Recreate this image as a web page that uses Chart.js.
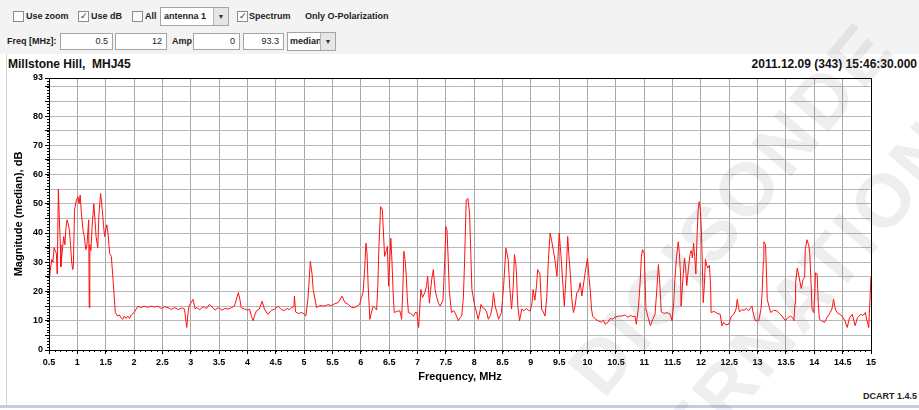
<!DOCTYPE html>
<html>
<head>
<meta charset="utf-8">
<script src="https://cdn.jsdelivr.net/npm/chart.js@4.4.1/dist/chart.umd.min.js"></script>
<style>
    body { margin:0; width:919px; height:410px; overflow:hidden; background:#fff; position:relative;
           font-family:'Liberation Sans', Arial, sans-serif; }
    .abs { position:absolute; }
    #toolbar { left:0; top:0; width:919px; height:54px; background:#f3f3f3; }
    .lbl { font-size:9px; font-weight:bold; color:#222; white-space:nowrap; line-height:12px; }
    .chk { width:9px; height:9px; border:1px solid #8c8c8c; background:#fbfbfb; font-size:9px; line-height:9px;
           text-align:center; color:#333; }
    .box { border:1px solid #a4a4a4; background:#fff; font-size:9px; color:#222; box-sizing:border-box; }
    .inp { text-align:right; padding-right:4px; line-height:15px; }
    .sel { padding-left:3px; line-height:17px; font-weight:bold; overflow:hidden; }
    .arr { position:absolute; top:0; right:0; bottom:0; background:#e6e6e6; border-left:1px solid #b4b4b4;
           font-size:7px; text-align:center; color:#333; }
    #chartWrap { left:0; top:70px; width:919px; height:320px; }
    .wm { color:rgba(90,90,90,0.10); font-weight:bold; font-size:75px; letter-spacing:4px; white-space:nowrap;
          transform-origin:center; pointer-events:none; font-family:'Liberation Sans', Arial, sans-serif; }
</style>
</head>
<body>
<div id="toolbar" class="abs">
    <div class="abs chk" style="left:13px;top:11px;"></div>
    <div class="abs lbl" style="left:26px;top:10px;">Use zoom</div>
    <div class="abs chk" style="left:78px;top:11px;">&#10003;</div>
    <div class="abs lbl" style="left:91px;top:10px;">Use dB</div>
    <div class="abs chk" style="left:132px;top:11px;"></div>
    <div class="abs lbl" style="left:145px;top:10px;">All</div>
    <div class="abs box sel" style="left:160px;top:7px;width:69px;height:19px;">antenna 1<div class="arr" style="width:14px;">&#9660;</div></div>
    <div class="abs chk" style="left:237px;top:11px;">&#10003;</div>
    <div class="abs lbl" style="left:249px;top:10px;">Spectrum</div>
    <div class="abs lbl" style="left:305px;top:10px;">Only O-Polarization</div>

    <div class="abs lbl" style="left:7px;top:35px;">Freq [MHz]:</div>
    <div class="abs box inp" style="left:60px;top:33px;width:53px;height:17px;">0.5</div>
    <div class="abs box inp" style="left:115px;top:33px;width:52px;height:17px;">12</div>
    <div class="abs lbl" style="left:172px;top:35px;">Amp</div>
    <div class="abs box inp" style="left:193px;top:33px;width:47px;height:17px;">0</div>
    <div class="abs box inp" style="left:243px;top:33px;width:41px;height:17px;">93.3</div>
    <div class="abs box sel" style="left:287px;top:32px;width:49px;height:19px;padding-left:2px;">median<div class="arr" style="width:14px;">&#9660;</div></div>
</div>
<div class="abs" style="left:6px;top:54px;width:1px;height:352px;background:#d4d4d4;"></div>
<div class="abs" style="left:8px;top:57px;font-size:12px;font-weight:bold;color:#111;white-space:pre;">Millstone Hill,  MHJ45</div>
<div class="abs" style="right:2px;top:57px;font-size:12px;font-weight:bold;color:#111;">2011.12.09 (343) 15:46:30.000</div>
<div id="chartWrap" class="abs"><canvas id="specChart"></canvas></div>
<div class="abs" style="right:2px;top:391px;font-size:9px;font-weight:bold;color:#222;">DCART 1.4.5</div>
<div class="abs" style="left:0;top:405px;width:919px;height:3px;background:#c3cedb;"></div>
<div class="abs wm" style="left:502px;top:165px;transform:rotate(-50deg);">DIGISONDE</div>
<div class="abs wm" style="left:470px;top:257px;transform:rotate(-50deg);">INTERNATIONAL</div>

<script>
// ==================== DATA ====================
const freqMHz = [
    0.50, 0.52, 0.55, 0.57, 0.59, 0.61, 0.63, 0.645, 0.665, 0.68, 0.70, 0.71, 0.74, 0.76, 0.78, 0.80, 0.82, 0.84, 0.86, 0.88,
    0.90, 0.92, 0.93, 0.95, 0.98, 1.01, 1.03, 1.05, 1.07, 1.10, 1.12, 1.15, 1.17, 1.20, 1.21, 1.22, 1.24, 1.26, 1.29, 1.31,
    1.33, 1.36, 1.38, 1.41, 1.44, 1.46, 1.48, 1.50, 1.52, 1.54, 1.57, 1.60, 1.63, 1.67, 1.71, 1.74, 1.77, 1.80, 1.83, 1.86,
    1.89, 1.92, 1.95, 2.00, 2.04, 2.07, 2.12, 2.18, 2.24, 2.30, 2.36, 2.42, 2.48, 2.54, 2.60, 2.66, 2.72, 2.78, 2.84, 2.89,
    2.93, 2.95, 2.97, 3.04, 3.08, 3.10, 3.16, 3.22, 3.28, 3.33, 3.38, 3.43, 3.49, 3.55, 3.60, 3.66, 3.72, 3.77, 3.84, 3.87,
    3.89, 3.95, 4.00, 4.04, 4.07, 4.10, 4.13, 4.16, 4.21, 4.26, 4.30, 4.36, 4.42, 4.48, 4.54, 4.60, 4.65, 4.70, 4.74, 4.78,
    4.82, 4.83, 4.85, 4.90, 4.96, 5.01, 5.03, 5.07, 5.11, 5.14, 5.16, 5.22, 5.28, 5.36, 5.42, 5.48, 5.54, 5.60, 5.67, 5.72,
    5.78, 5.84, 5.89, 5.95, 5.98, 6.01, 6.04, 6.07, 6.09, 6.11, 6.13, 6.16, 6.19, 6.22, 6.25, 6.28, 6.30, 6.32, 6.35, 6.38,
    6.40, 6.42, 6.45, 6.47, 6.49, 6.51, 6.53, 6.55, 6.57, 6.59, 6.63, 6.69, 6.72, 6.74, 6.76, 6.78, 6.80, 6.82, 6.84, 6.88,
    6.93, 6.96, 6.99, 7.02, 7.04, 7.06, 7.09, 7.13, 7.16, 7.18, 7.21, 7.23, 7.25, 7.28, 7.31, 7.34, 7.37, 7.40, 7.45, 7.48,
    7.50, 7.52, 7.54, 7.56, 7.60, 7.64, 7.68, 7.72, 7.75, 7.78, 7.81, 7.83, 7.86, 7.89, 7.92, 7.94, 7.96, 8.01, 8.04, 8.07,
    8.10, 8.12, 8.15, 8.19, 8.22, 8.25, 8.29, 8.32, 8.34, 8.37, 8.40, 8.43, 8.48, 8.52, 8.56, 8.60, 8.63, 8.66, 8.69, 8.71,
    8.74, 8.77, 8.80, 8.84, 8.88, 8.92, 8.96, 8.99, 9.02, 9.04, 9.07, 9.10, 9.12, 9.16, 9.19, 9.22, 9.25, 9.28, 9.31, 9.34,
    9.37, 9.40, 9.43, 9.46, 9.48, 9.50, 9.53, 9.56, 9.59, 9.62, 9.65, 9.67, 9.70, 9.72, 9.75, 9.78, 9.81, 9.84, 9.87, 9.90,
    9.94, 9.97, 10.00, 10.02, 10.05, 10.07, 10.09, 10.14, 10.19, 10.24, 10.28, 10.31, 10.36, 10.40, 10.43, 10.49, 10.55, 10.61, 10.66, 10.71,
    10.76, 10.80, 10.84, 10.86, 10.90, 10.93, 10.95, 10.97, 11.00, 11.03, 11.07, 11.11, 11.15, 11.19, 11.22, 11.25, 11.27, 11.30, 11.35, 11.40,
    11.46, 11.49, 11.52, 11.54, 11.57, 11.60, 11.62, 11.64, 11.65, 11.68, 11.71, 11.73, 11.75, 11.78, 11.81, 11.83, 11.85, 11.87, 11.89, 11.91,
    11.93, 11.95, 11.97, 11.99, 12.01, 12.03, 12.04, 12.06, 12.08, 12.10, 12.12, 12.15, 12.17, 12.18, 12.23, 12.28, 12.34, 12.37, 12.40, 12.44,
    12.49, 12.54, 12.58, 12.62, 12.64, 12.66, 12.68, 12.72, 12.76, 12.80, 12.84, 12.90, 12.93, 12.96, 13.00, 13.02, 13.06, 13.08, 13.10, 13.11,
    13.14, 13.15, 13.17, 13.20, 13.23, 13.28, 13.34, 13.38, 13.43, 13.49, 13.53, 13.58, 13.62, 13.64, 13.66, 13.67, 13.70, 13.73, 13.77, 13.80,
    13.83, 13.84, 13.87, 13.90, 13.92, 13.94, 13.96, 13.99, 14.01, 14.02, 14.05, 14.07, 14.09, 14.13, 14.18, 14.22, 14.28, 14.31, 14.34, 14.37,
    14.40, 14.45, 14.49, 14.54, 14.58, 14.62, 14.67, 14.72, 14.76, 14.82, 14.86, 14.90, 14.93, 14.96, 15.00
];
const magnitudeDb = [
    22, 27, 31, 30, 35, 34, 33, 26, 55, 46, 36, 28.5, 35, 38.8, 36, 42, 44.5, 43, 41, 36,
    30, 27.5, 29, 47.9, 51, 52.4, 50, 53, 47, 41, 39, 34.3, 36, 44.5, 14.5, 36, 34, 42, 50, 45,
    38.8, 35, 46, 53.5, 48, 43, 38.8, 41, 42.8, 40, 33, 32, 24, 12.8, 11.6, 12, 11, 10.5, 11.6, 10.8,
    11.6, 10.8, 12, 12.8, 14, 15, 14.5, 15, 14.6, 15, 14.7, 15, 14.2, 14.8, 14.5, 13.9, 14.5, 13.8, 14.4, 14,
    7.7, 12, 15, 17.3, 14, 14.5, 13.8, 14.8, 14.2, 15.6, 14.6, 13.7, 14.5, 13.6, 14.2, 14, 14.5, 15, 19.6, 17,
    14.5, 14, 13.6, 14, 11.5, 10, 12, 13.4, 14, 16.7, 14, 12.2, 13.5, 14, 15, 13.8, 13.5, 14.2, 13.8, 14.5,
    14.8, 18.4, 13, 12.5, 12.8, 12.2, 11.6, 18, 30.3, 26, 20.7, 14.5, 15.2, 15, 15.5, 15.2, 15.8, 16.2, 18.4, 16.2,
    15.6, 14.5, 14.5, 15.2, 15.6, 17.9, 19.6, 28, 36.5, 33, 22, 10.5, 13, 15, 14.5, 13.7, 22, 35.4, 49, 48,
    40, 32, 34, 35.4, 21.8, 30, 38.2, 30.3, 20, 12.8, 13.2, 13.4, 10.5, 20, 33.7, 31, 26, 18, 12.8, 12.5,
    11.6, 12.8, 12.8, 7.7, 14, 20.7, 18, 19.6, 22, 25.2, 16, 20, 24, 27.5, 20.7, 18, 16, 15, 17, 30,
    42.2, 41, 32, 20.7, 12.8, 13.5, 12, 10, 11, 11.6, 18, 29.8, 51.3, 51.8, 46.5, 33, 20.7, 15, 13, 10.5,
    13, 15.6, 14.5, 14, 13, 10.5, 12, 15, 19.6, 15, 13, 10.5, 12.8, 22, 34.8, 31, 20.7, 14, 22, 32.6,
    28.6, 15, 10, 14, 13.4, 14.2, 13.5, 13.4, 16, 20.7, 17, 22, 27.5, 26, 14, 13, 11.6, 18, 31, 40,
    37, 33.7, 30, 25.2, 32, 40, 32.6, 24, 15, 25, 38.8, 32.6, 25, 18, 12.8, 15, 19.6, 20, 23, 18.5,
    24, 28, 31.4, 26, 20, 14, 11.6, 10.5, 10, 9.5, 10.2, 8.8, 9.5, 10.8, 10.5, 11.2, 11.6, 11.6, 12, 11.2,
    11.8, 11.4, 11.6, 8.8, 15, 24, 32, 34.3, 33, 14, 11, 8.3, 10.5, 12.2, 20, 29.2, 24, 13, 12.5, 12.8,
    12.2, 10, 16, 24, 32, 37, 33, 26, 15, 24, 31.4, 28, 22, 28, 33, 34, 31.5, 36.5, 32, 26,
    38, 47.9, 50.7, 48, 40, 25, 16.2, 22, 31, 29, 28, 29, 22, 12.8, 13.2, 12.6, 12.2, 8.3, 9.5, 8.6,
    8.8, 11.6, 12.2, 14, 17.3, 15, 13, 13.8, 13.6, 14.2, 13.4, 15, 12, 10, 10.2, 10, 14, 19.6, 30, 37,
    36, 30, 17.3, 15, 12.8, 13.6, 13.4, 12.5, 11.6, 10, 11, 11.6, 11, 10, 16, 23, 28, 25, 21, 24,
    25, 34.3, 37.7, 36, 33, 24, 14, 12.8, 20, 26.4, 26, 16, 10.5, 10, 9.4, 11, 12.8, 14, 17.3, 14,
    12.8, 12.2, 11.6, 10, 7.7, 11, 12.2, 8.3, 11, 12.2, 11.8, 12.8, 10, 7.7, 25.2
];
const xTickValues = [0.5, 1, 1.5, 2, 2.5, 3, 3.5, 4, 4.5, 5, 5.5, 6, 6.5, 7, 7.5, 8, 8.5, 9, 9.5, 10,
                     10.5, 11, 11.5, 12, 12.5, 13, 13.5, 14, 14.5, 15];
const yTickValues = [0, 5, 10, 15, 20, 25, 30, 35, 40, 45, 50, 55, 60, 65, 70, 75, 80, 85, 90, 93];
const yTickLabels = [0, 10, 20, 30, 40, 50, 60, 70, 80, 93];

// ==================== CHART ====================
const TICK_FONT = { family: "'Liberation Sans', Arial, sans-serif", size: 9, weight: 'bold' };
const TITLE_FONT = { family: "'Liberation Sans', Arial, sans-serif", size: 11, weight: 'bold' };

// frame + small minor tick marks (0.1 MHz / 1 dB), placed through the scales
const frameAndMinorTicks = {
    id: 'frameAndMinorTicks',
    afterDraw(chart) {
        const { ctx, chartArea: a, scales: { x, y } } = chart;
        ctx.save();
        ctx.strokeStyle = '#000';
        ctx.lineWidth = 1;
        ctx.strokeRect(Math.round(a.left) + 0.5, Math.round(a.top) + 0.5,
                       Math.round(a.right - a.left), Math.round(a.bottom - a.top));
        ctx.beginPath();
        for (let i = 5; i <= 150; i++) {
            const px = Math.round(x.getPixelForValue(i / 10)) + 0.5;
            ctx.moveTo(px, a.bottom);
            ctx.lineTo(px, a.bottom + 2);
        }
        for (let j = 0; j <= 93; j++) {
            const py = Math.round(y.getPixelForValue(j)) + 0.5;
            ctx.moveTo(a.left - 2, py);
            ctx.lineTo(a.left, py);
        }
        ctx.stroke();
        ctx.restore();
    }
};

const ctx = document.getElementById('specChart').getContext('2d');
window.specChart = new Chart(ctx, {
    type: 'line',
    data: {
        datasets: [{
            data: freqMHz.map((f, i) => ({ x: f, y: magnitudeDb[i] })),
            borderColor: '#ff1010',
            borderWidth: 1,
            pointRadius: 0,
            tension: 0,
            fill: false
        }]
    },
    options: {
        responsive: true,
        maintainAspectRatio: false,
        animation: false,
        layout: { padding: { left: 0, right: 48, top: 8, bottom: 0 } },
        plugins: { legend: { display: false }, tooltip: { enabled: false } },
        scales: {
            x: {
                type: 'linear',
                min: 0.5,
                max: 15,
                afterBuildTicks: s => { s.ticks = xTickValues.map(v => ({ value: v })); },
                afterFit: s => { s.height = 40; },
                ticks: { color: '#000', font: TICK_FONT, padding: 3, maxRotation: 0, autoSkip: false,
                         callback: v => String(v) },
                grid: { color: '#a8a8a8', lineWidth: 1, tickLength: 4, tickColor: '#000' },
                border: { color: '#000' },
                title: { display: true, text: 'Frequency, MHz', color: '#000', font: TITLE_FONT,
                         padding: { top: 0, bottom: 6 } }
            },
            y: {
                min: 0,
                max: 93,
                afterBuildTicks: s => { s.ticks = yTickValues.map(v => ({ value: v })); },
                afterFit: s => { s.width = 49; },
                ticks: { color: '#000', font: TICK_FONT, padding: 2, autoSkip: false,
                         callback: v => yTickLabels.includes(v) ? String(v) : '' },
                grid: { color: '#b8b8b8', lineWidth: 1, tickLength: 4, tickColor: '#000' },
                border: { color: '#000' },
                title: { display: true, text: 'Magnitude (median), dB', color: '#000', font: TITLE_FONT,
                         padding: { top: 12, bottom: 0 } }
            }
        }
    },
    plugins: [frameAndMinorTicks]
});
</script>
</body>
</html>
